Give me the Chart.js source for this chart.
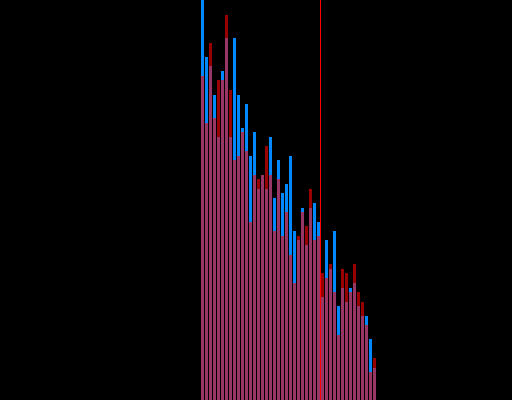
<!DOCTYPE html>
<html>
<head>
<meta charset="utf-8">
<script src="https://cdn.jsdelivr.net/npm/chart.js@4"></script>
<style>
    html, body { margin: 0; padding: 0; background: #000; }
    .wrap { width: 512px; height: 400px; position: relative; }
</style>
</head>
<body>
<div class="wrap"><canvas id="histChart"></canvas></div>
<script>
// Bin positions (bin index)
const bins = [0, 1, 2, 3, 4, 5, 6, 7, 8, 9, 10, 11, 12, 13, 14, 15, 16, 17, 18, 19, 20, 21,
    22, 23, 24, 25, 26, 27, 28, 29, 30, 31, 32, 33, 34, 35, 36, 37, 38, 39, 40, 41, 42, 43];

// Counts per bin, first series (blue)
const blueCounts = [400, 343, 334, 305, 263, 329, 362, 263, 362, 305, 272, 296, 244, 268, 211, 225,
    211, 263, 202, 240, 207, 216, 244, 169, 160, 192, 155, 192, 197, 178, 103, 160,
    131, 169, 94, 112, 98, 112, 117, 94, 84, 84, 61, 32];

// Counts per bin, second series (red, drawn over the blue one)
const redCounts = [324, 277, 357, 282, 320, 320, 385, 310, 240, 244, 268, 249, 178, 225, 221, 225,
    254, 225, 169, 221, 164, 188, 145, 117, 164, 188, 174, 211, 160, 164, 127, 122,
    136, 108, 65, 131, 127, 108, 136, 108, 98, 75, 28, 42];

// Marker line position (in bin units)
const markerX = 29.5;
const yMax = 400;

const toPoints = (xs, ys) => xs.map((x, i) => ({ x: x, y: ys[i] }));

const ctx = document.getElementById('histChart').getContext('2d');
const histChart = new Chart(ctx, {
    type: 'bar',
    data: {
        datasets: [
            {
                type: 'line',
                data: [{ x: markerX, y: 0 }, { x: markerX, y: yMax }],
                borderColor: '#ff0000',
                borderWidth: 1,
                pointRadius: 0,
                order: 0
            },
            {
                label: 'Red',
                data: toPoints(bins, redCounts),
                backgroundColor: 'rgba(255, 0, 0, 0.6)',
                borderWidth: 0,
                inflateAmount: 0,
                barThickness: 3,
                grouped: false,
                order: 1
            },
            {
                label: 'Blue',
                data: toPoints(bins, blueCounts),
                backgroundColor: 'rgb(0, 136, 255)',
                borderWidth: 0,
                inflateAmount: 0,
                barThickness: 3,
                grouped: false,
                order: 2
            }
        ]
    },
    options: {
        responsive: true,
        maintainAspectRatio: false,
        animation: false,
        layout: { padding: 0 },
        plugins: {
            legend: { display: false },
            tooltip: { enabled: false }
        },
        scales: {
            x: {
                type: 'linear',
                display: false,
                offset: false,
                min: -50.625,
                max: 77.375
            },
            y: {
                display: false,
                min: 0,
                max: yMax
            }
        }
    }
});
</script>
</body>
</html>
